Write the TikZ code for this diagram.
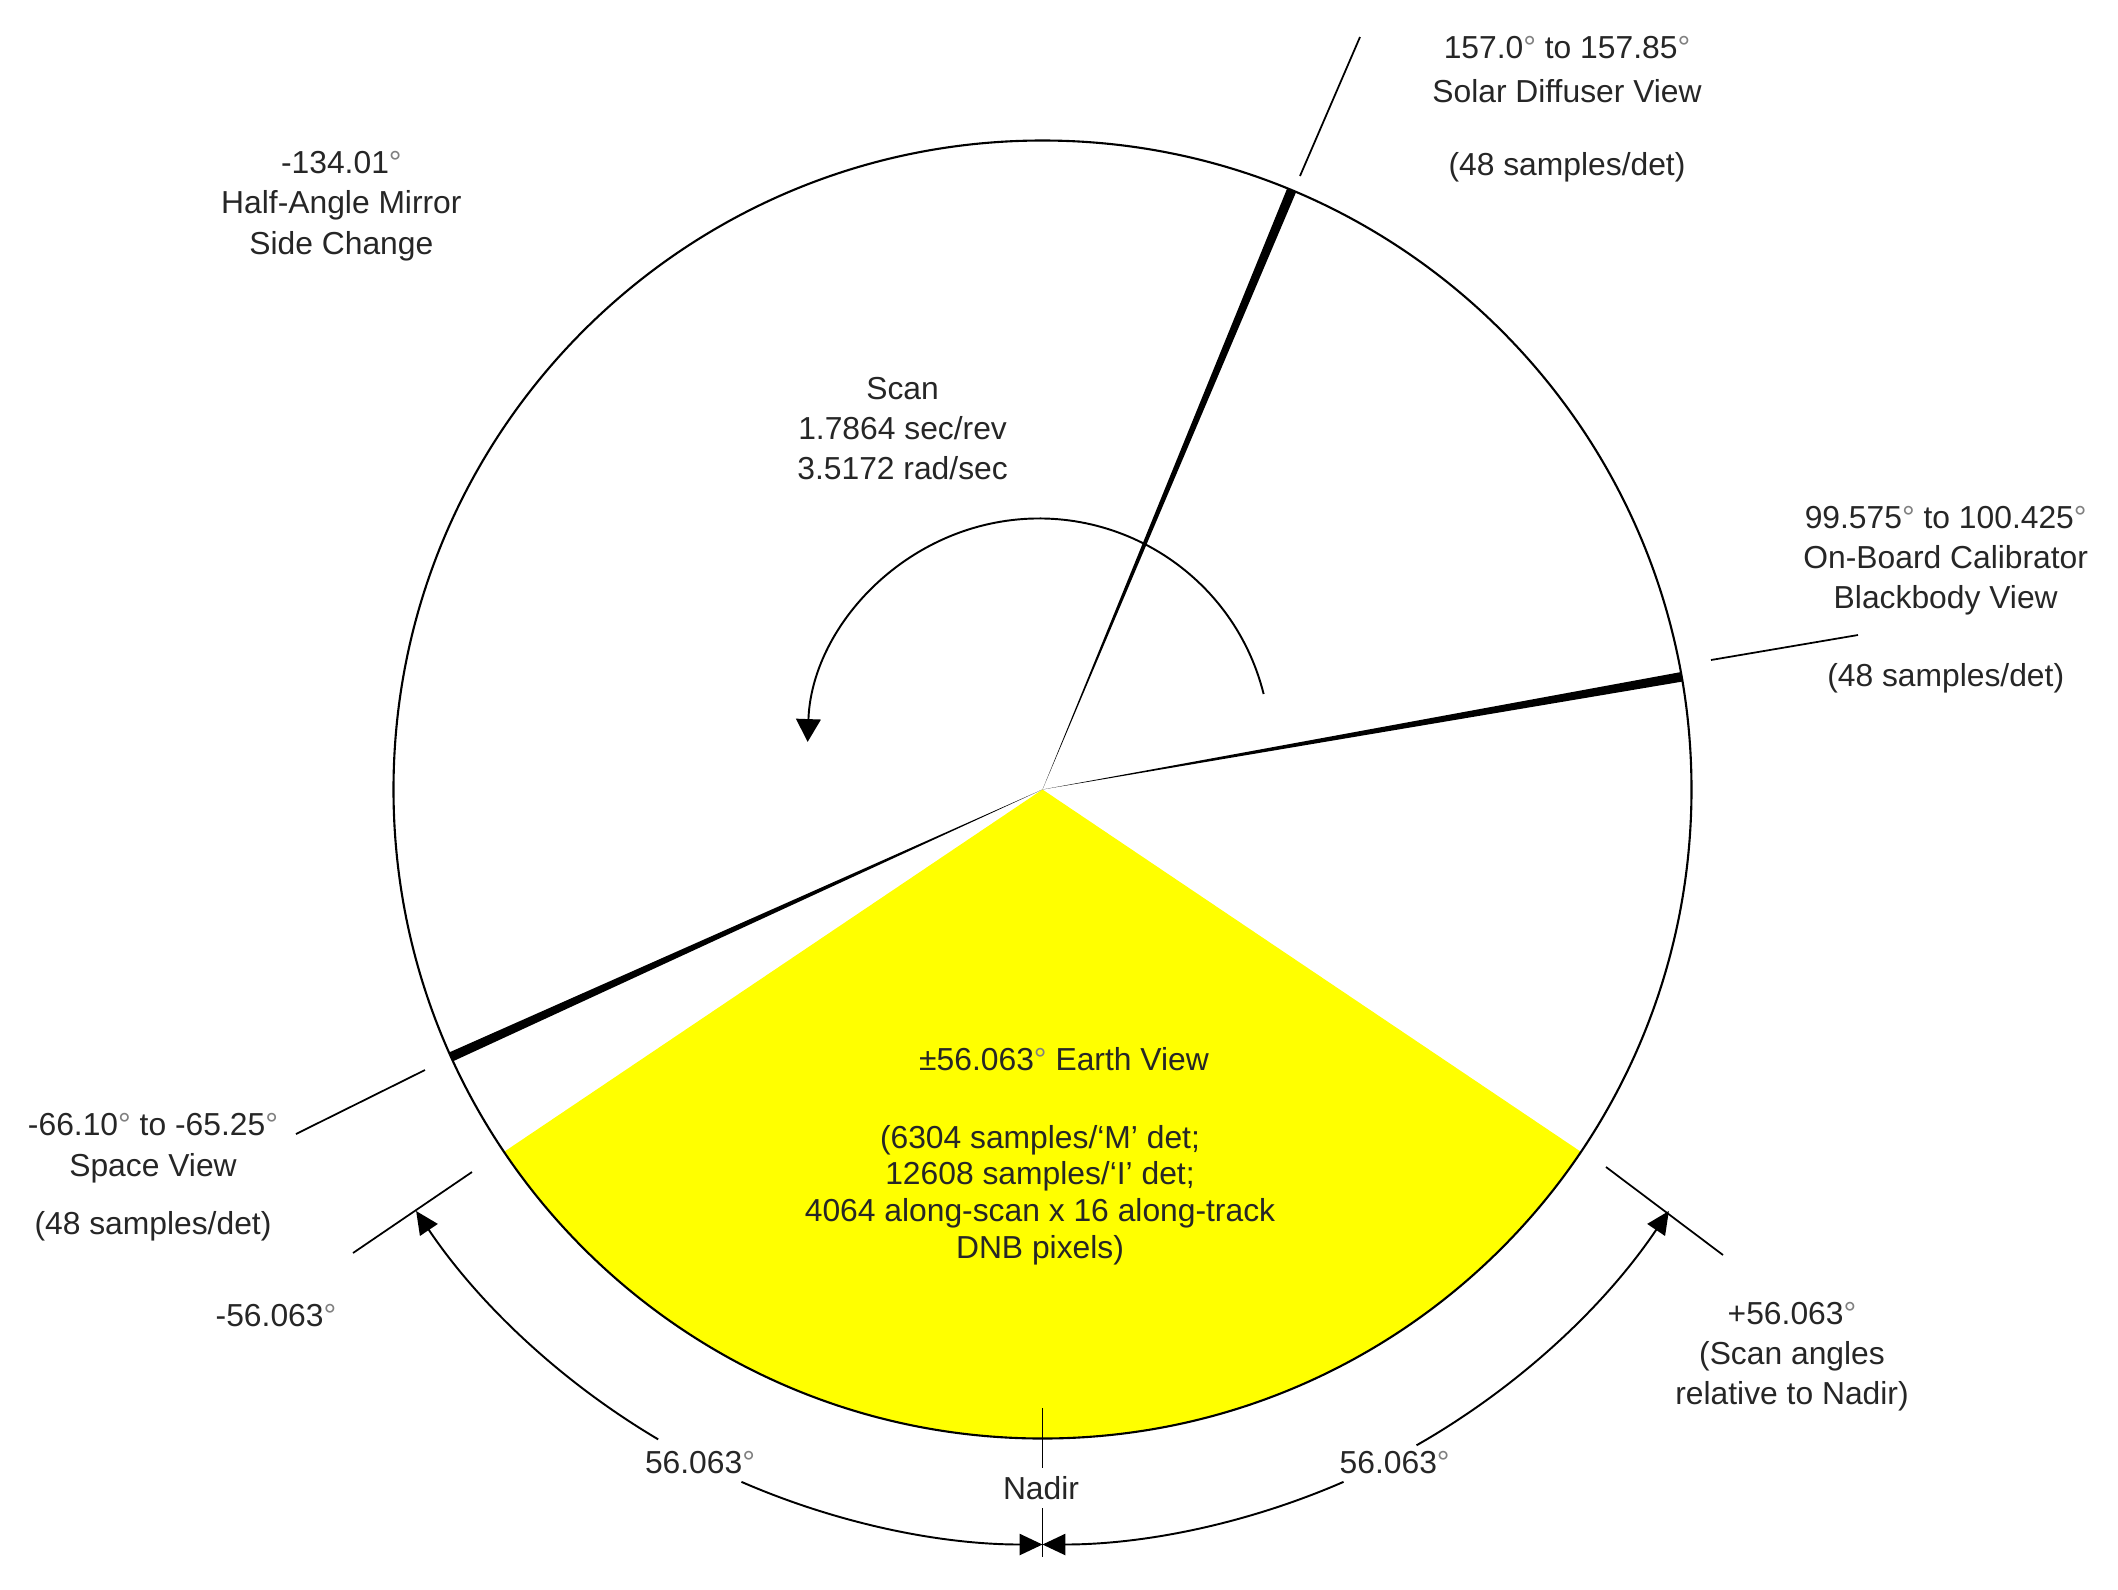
\documentclass[tikz,border=0pt]{standalone}
\usepackage{fontspec}
\setmainfont{Liberation Sans}
\usetikzlibrary{calc,arrows.meta}
\definecolor{earthyellow}{RGB}{255,255,0}
\definecolor{txtgray}{RGB}{38,38,38}
\newcommand\degr{\textcolor{black!50}{°}}
\begin{document}
\begin{tikzpicture}[
  lbl/.style={text=txtgray, font=\fontsize{9.05}{11.45}\selectfont, align=center, inner sep=0pt},
  evlbl/.style={lbl, font=\fontsize{9.05}{10.45}\selectfont},
  rim/.style={line width=0.6pt},
  leader/.style={line width=0.5pt},
  dimarrow/.style={line width=0.55pt, -{Triangle[length=6.5pt,width=6pt]}},
  scanarrow/.style={line width=0.55pt, -{Triangle[length=6.5pt,width=7pt]}},
]
\useasboundingbox (0,0) rectangle (21.18,-15.90);
\coordinate (C) at (10.425,-7.895);
\coordinate (S) at (10.39,-7.50);
\def\R{6.49}
\def\D{7.55}

% Earth view sector
\fill[earthyellow] (C) -- ($(C)+(-146.063:\R)$) arc[start angle=-146.063, end angle=-33.937, radius=\R] -- cycle;

% view wedges
\fill (C) -- ($(C)+(9.575:\R)$) arc[start angle=9.575, end angle=10.425, radius=\R] -- cycle;
\fill (C) -- ($(C)+(67.0:\R)$) arc[start angle=67.0, end angle=67.85, radius=\R] -- cycle;
\fill (C) -- ($(C)+(-156.10:\R)$) arc[start angle=-156.10, end angle=-155.25, radius=\R] -- cycle;

% scan circle
\draw[rim] (C) circle[radius=\R];

% leader lines
\coordinate (sdA) at (13.00,-1.76);   \coordinate (sdB) at (13.60,-0.37);
\coordinate (obA) at (17.11,-6.60);   \coordinate (obB) at (18.58,-6.35);
\coordinate (svA) at (4.25,-10.70);   \coordinate (svB) at (2.96,-11.34);
\coordinate (lmA) at (4.72,-11.72);   \coordinate (lmB) at (3.53,-12.53);
\coordinate (rpA) at (16.06,-11.67);  \coordinate (rpB) at (17.23,-12.55);
\draw[leader] (sdA) -- (sdB);
\draw[leader] (obA) -- (obB);
\draw[leader] (svA) -- (svB);
\draw[leader] (lmA) -- (lmB);
\draw[leader] (rpA) -- (rpB);

% nadir tick
\coordinate (ndTop) at (10.425,-14.08);
\coordinate (ndMidA) at (10.425,-14.68);
\coordinate (ndMidB) at (10.425,-15.08);
\coordinate (ndBot) at (10.425,-15.57);
\draw[leader] (ndTop) -- (ndMidA);
\draw[leader] (ndMidB) -- (ndBot);

% scan direction arrow
\draw[scanarrow] ($(S)+(14:2.315)$) arc[start angle=14, end angle=178, radius=2.315];

% dimension arcs
\draw[dimarrow] ($(C)+(-120.6:\D)$) arc[start angle=-120.6, end angle=-146.063, radius=\D];
\draw[dimarrow] ($(C)+(-113.5:\D)$) arc[start angle=-113.5, end angle=-90, radius=\D];
\draw[dimarrow] ($(C)+(-66.5:\D)$) arc[start angle=-66.5, end angle=-90, radius=\D];
\draw[dimarrow] ($(C)+(-60.3:\D)$) arc[start angle=-60.3, end angle=-33.937, radius=\D];

% labels
\node[lbl] (ham) at (3.414,-2.061) {-134.01\degr\\Half-Angle Mirror\\Side Change};
\node[lbl] (scan) at (9.026,-4.286) {Scan\\1.7864 sec/rev\\3.5172 rad/sec};
\node[lbl] (sd) at (15.67,-1.093) {157.0\degr{} to 157.85\degr\\[1.2pt]Solar Diffuser View\\[9.3pt](48 samples/det)};
\node[lbl] (obc) at (19.457,-5.995) {99.575\degr{} to 100.425\degr\\On-Board Calibrator\\Blackbody View\\[10.5pt](48 samples/det)};
\node[lbl] (sv) at (1.53,-11.77) {-66.10\degr{} to -65.25\degr\\[0.4pt]Space View\\[5pt](48 samples/det)};
\node[lbl] (lm) at (2.76,-13.16) {-56.063\degr};
\node[lbl] (rp) at (17.92,-13.565) {+56.063\degr\\(Scan angles\\relative to Nadir)};
\node[lbl] (evt) at (10.64,-10.59) {±56.063\degr{} Earth View};
\node[evlbl] (evd) at (10.40,-11.95) {(6304 samples/‘M’ det;\\12608 samples/‘I’ det;\\4064 along-scan x 16 along-track\\DNB pixels)};
\node[lbl] (nadir) at (10.41,-14.88) {Nadir};
\node[lbl] (dl) at (7.00,-14.625) {56.063\degr};
\node[lbl] (dr) at (13.947,-14.625) {56.063\degr};
\end{tikzpicture}
\end{document}
